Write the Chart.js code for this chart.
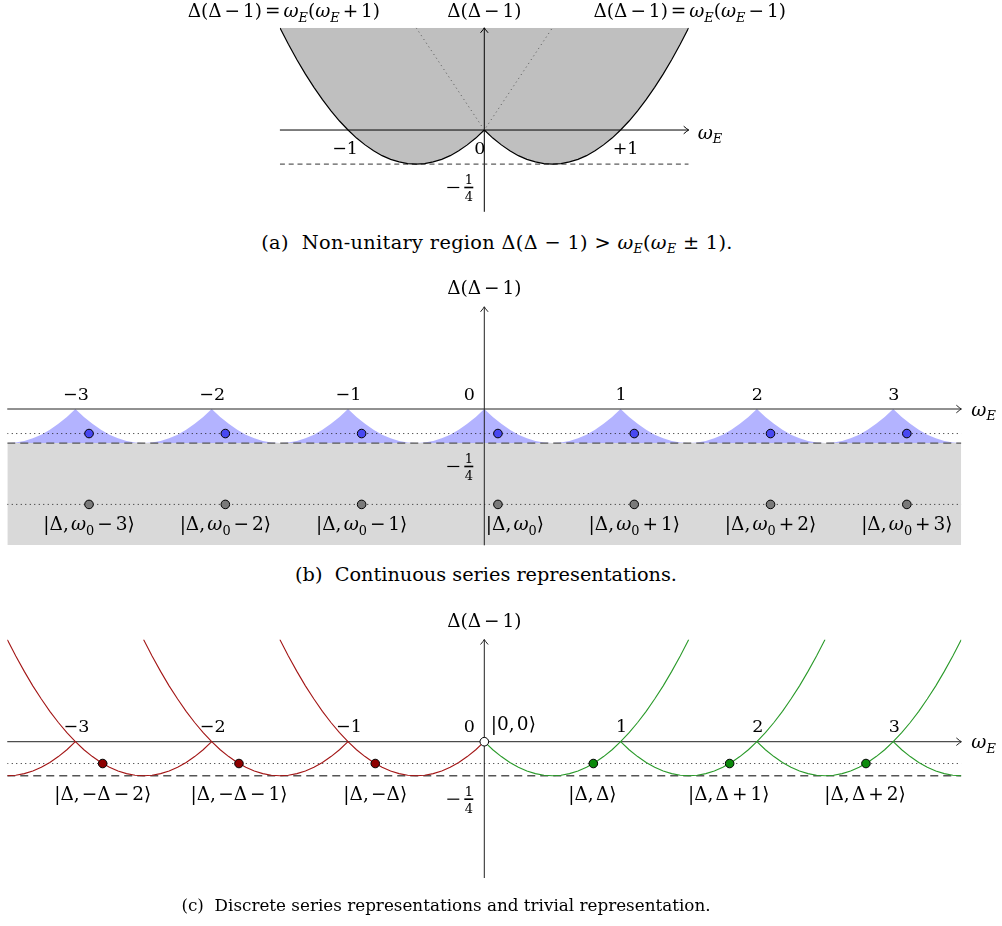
<!DOCTYPE html>
<html><head><meta charset="utf-8">
<script src="https://cdn.jsdelivr.net/npm/chart.js@4.4.1/dist/chart.umd.min.js"></script>
<style>
html,body{margin:0;padding:0;background:#fff;}
body{width:1002px;height:926px;position:relative;overflow:hidden;}
canvas{position:absolute;left:0;}
.cap{position:absolute;transform:translateX(-50%);white-space:nowrap;font-family:"DejaVu Serif","Liberation Serif",serif;font-size:19.3px;line-height:22px;color:#000;}
.cap i{font-style:italic}
.cap sub{font-size:12.5px;line-height:0;vertical-align:-4px}
</style></head><body>
<canvas id="ca" width="1002" height="225" style="top:0px"></canvas>
<canvas id="cb" width="1002" height="300" style="top:260px"></canvas>
<canvas id="cc" width="1002" height="300" style="top:595px"></canvas>
<div class="cap" style="left:497px;top:232px;letter-spacing:0.35px">(a)&nbsp; Non-unitary region Δ(Δ − 1) &gt; <i>ω</i><sub><i>E</i></sub>(<i>ω</i><sub><i>E</i></sub> ± 1).</div>
<div class="cap" style="left:486px;top:564px">(b)&nbsp; Continuous series representations.</div>
<div class="cap" style="left:446px;top:894px;font-size:16.8px">(c)&nbsp; Discrete series representations and trivial representation.</div>
<script>
// ---------- data ----------
// parabola profile: value of Δ(Δ−1) vs offset u along ω
const PROFILE_U = [-0.5,-0.4375,-0.375,-0.3125,-0.25,-0.1875,-0.125,-0.0625,0,0.0625,0.125,0.1875,0.25,0.3125,0.375,0.4375,0.5,0.5625,0.625,0.6875,0.75,0.8125,0.875,0.9375,1,1.0625,1.125,1.1875,1.25,1.3125,1.375,1.4375,1.5];
const PROFILE_V = [0.75,0.629,0.516,0.41,0.313,0.223,0.141,0.066,0,-0.059,-0.109,-0.152,-0.188,-0.215,-0.234,-0.246,-0.25,-0.246,-0.234,-0.215,-0.188,-0.152,-0.109,-0.059,0,0.066,0.141,0.223,0.313,0.41,0.516,0.629,0.75];

const UNITARITY_BOUND = -0.25;
// panel (a)
const A_PIECES = [[-1,-0.5,1],[0,0,1.5]];           // [shift, uFrom, uTo]
const A_DOTTED_X = [-0.5, 0, 0.5];
const A_DOTTED_Y = [0.75, 0, 0.75];
const A_TICKS = [-1, 0, 1];
const A_TICK_LABELS = ['−1','0','+1'];
const A_TOP_LABELS = ['Δ(Δ−1)=ω_E(ω_E+1)','Δ(Δ−1)','Δ(Δ−1)=ω_E(ω_E−1)'];
// panel (b)
const B_PEAKS = [-3,-2,-1,0,1,2,3];
const B_TICK_LABELS = ['−3','−2','−1','0','1','2','3'];
const B_BLUE_OMEGA = [-2.9,-1.9,-0.9,0.1,1.1,2.1,3.1];
const B_BLUE_LEVEL = -0.18;
const B_GRAY_OMEGA = [-2.9,-1.9,-0.9,0.1,1.1,2.1,3.1];
const B_GRAY_LEVEL = -0.70;
const B_LABELS = ['|Δ,ω_0−3⟩','|Δ,ω_0−2⟩','|Δ,ω_0−1⟩','|Δ,ω_0⟩','|Δ,ω_0+1⟩','|Δ,ω_0+2⟩','|Δ,ω_0+3⟩'];
// panel (c)
const C_GREEN_PIECES = [[0,0,1.5],[1,0,1.5],[2,0,1.5],[3,0,0.5]];
const C_RED_PIECES = [[-1,-0.5,1],[-2,-0.5,1],[-3,-0.5,1],[-4,0.5,1]];
const C_GREEN_OMEGA = [0.8,1.8,2.8];
const C_RED_OMEGA = [-0.8,-1.8,-2.8];
const C_LEVEL = -0.16;
const C_GREEN_LABELS = ['|Δ,Δ⟩','|Δ,Δ+1⟩','|Δ,Δ+2⟩'];
const C_RED_LABELS = ['|Δ,−Δ⟩','|Δ,−Δ−1⟩','|Δ,−Δ−2⟩'];
const C_TICKS = [-3,-2,-1,0,1,2,3];
const C_TICK_LABELS = ['−3','−2','−1','0','1','2','3'];

// ---------- helpers ----------
function piece(shift, uFrom, uTo){
  const out=[];
  for(let i=0;i<PROFILE_U.length;i++){
    const u=PROFILE_U[i];
    if(u>=uFrom-1e-9 && u<=uTo+1e-9) out.push({x:u+shift,y:PROFILE_V[i]});
  }
  return out;
}
const FONT='"DejaVu Serif","Liberation Serif",serif';
const LABEL_SIZE=18.5, TICK_SIZE=17.5;
function tokens(str,size){
  const out=[];
  let prev='';
  for(let i=0;i<str.length;i++){
    let ch=str[i], sub=false;
    if(ch==='_'){sub=true;i++;ch=str[i];}
    const it=/[a-zA-Zω]/.test(ch);
    const s=sub?size*0.7:size;
    let pre=0,post=0;
    const unary = (ch==='−'||ch==='+') && (prev===''||prev==='('||prev===','||prev==='|');
    if('−+=>±'.includes(ch) && !unary){pre=post=size*0.16;}
    if(ch===','){post=size*0.12;}
    out.push({ch,font:(it?'italic ':'')+s.toFixed(1)+'px '+FONT,pre,post,dy:sub?size*0.26:0});
    prev=ch;
  }
  return out;
}
function drawRich(ctx,str,x,y,size,align){
  const tk=tokens(str,size);
  let w=0;
  tk.forEach(t=>{ctx.font=t.font;t.w=ctx.measureText(t.ch).width;w+=t.pre+t.w+t.post;});
  let cx = align==='left'?x:(align==='right'?x-w:x-w/2);
  const base=y+size*0.36;
  ctx.textBaseline='alphabetic';ctx.textAlign='left';ctx.fillStyle='#000';
  tk.forEach(t=>{cx+=t.pre;ctx.font=t.font;ctx.fillText(t.ch,cx,base+t.dy);cx+=t.w+t.post;});
}
function drawQuarter(ctx,px,py){
  // "−1/4" fraction; px,py = pixel of (0,-1/4)
  const bx=px-15.5, by=py+23.4;
  ctx.save();
  ctx.strokeStyle='#000';ctx.lineWidth=1.2;
  ctx.beginPath();ctx.moveTo(bx-21.5,by);ctx.lineTo(bx-9.5,by);ctx.stroke();
  ctx.lineWidth=1.6;
  ctx.beginPath();ctx.moveTo(bx-4.5,by);ctx.lineTo(bx+4.5,by);ctx.stroke();
  ctx.fillStyle='#000';ctx.textAlign='center';ctx.textBaseline='alphabetic';
  ctx.font='13px '+FONT;
  ctx.fillText('1',bx,by-3);
  ctx.fillText('4',bx,by+14);
  ctx.restore();
}
function arrowHead(ctx,x,y,dir){
  ctx.beginPath();
  if(dir==='right'){
    ctx.moveTo(x-5,y-3.8);ctx.quadraticCurveTo(x-1.5,y-0.8,x,y);ctx.quadraticCurveTo(x-1.5,y+0.8,x-5,y+3.8);
  }else{
    ctx.moveTo(x-3.8,y+5);ctx.quadraticCurveTo(x-0.8,y+1.5,x,y);ctx.quadraticCurveTo(x+0.8,y+1.5,x+3.8,y+5);
  }
  ctx.stroke();
}
function axesPlugin(cfg){
  return {id:'axesArrows',beforeDatasetsDraw(chart){
    const ctx=chart.ctx,xs=chart.scales.x,ys=chart.scales.y;
    ctx.save();ctx.strokeStyle=cfg.color;ctx.lineWidth=1;
    const y0=ys.getPixelForValue(0),x0=xs.getPixelForValue(0);
    const xa=xs.getPixelForValue(xs.min),xb=xs.getPixelForValue(xs.max);
    const ya=ys.getPixelForValue(ys.min),yb=ys.getPixelForValue(ys.max);
    ctx.beginPath();ctx.moveTo(xa,y0);ctx.lineTo(xb,y0);ctx.stroke();
    ctx.beginPath();ctx.moveTo(x0,ya);ctx.lineTo(x0,yb);ctx.stroke();
    arrowHead(ctx,xb,y0,'right');arrowHead(ctx,x0,yb,'up');
    ctx.restore();
  }};
}
function labelsPlugin(items,quarter){
  return {id:'texts',afterDraw(chart){
    const ctx=chart.ctx,xs=chart.scales.x,ys=chart.scales.y;
    ctx.save();
    items.forEach(it=>{
      drawRich(ctx,it.t,xs.getPixelForValue(it.x)+(it.dx||0),ys.getPixelForValue(it.y)+(it.dy||0),it.size||LABEL_SIZE,it.align||'center');
    });
    if(quarter) drawQuarter(ctx,xs.getPixelForValue(0),ys.getPixelForValue(UNITARITY_BOUND));
    ctx.restore();
  }};
}
function options(xmin,xmax,ymin,ymax,pad){
  return {responsive:false,animation:false,events:[],devicePixelRatio:1,
    layout:{padding:pad},
    plugins:{legend:{display:false},tooltip:{enabled:false},filler:{drawTime:'beforeDatasetsDraw'}},
    scales:{x:{type:'linear',min:xmin,max:xmax,display:false},y:{type:'linear',min:ymin,max:ymax,display:false}},
    elements:{point:{radius:0,hoverRadius:0},line:{tension:0}}};
}
function hline(y,x1,x2,color,dash,w){
  return {data:[{x:x1,y:y},{x:x2,y:y}],borderColor:color,borderDash:dash,borderWidth:w,pointRadius:0,fill:false};
}
function dots(xsArr,y,bg,r){
  return {data:xsArr.map(x=>({x:x,y:y})),showLine:false,pointRadius:r,pointBackgroundColor:bg,pointBorderColor:'#000',pointBorderWidth:1};
}

// ---------- panel (a) ----------
(function(){
  const ds=[];
  A_PIECES.forEach(p=>ds.push({data:piece(p[0],p[1],p[2]),borderColor:'#000',borderWidth:1.2,backgroundColor:'#bfbfbf',fill:'end',pointRadius:0}));
  ds.push({data:A_DOTTED_X.map((x,i)=>({x:x,y:A_DOTTED_Y[i]})),borderColor:'#555',borderDash:[1,3.5],borderWidth:1,fill:false,pointRadius:0});
  ds.push(hline(UNITARITY_BOUND,-1.5,1.5,'#333',[5,3.8],1));
  const items=[
    {t:A_TOP_LABELS[0],x:-1.5,y:0.75,dx:4,dy:-17},
    {t:A_TOP_LABELS[1],x:0,y:0.75,dx:0,dy:-17},
    {t:A_TOP_LABELS[2],x:1.5,y:0.75,dx:1,dy:-17},
    {t:'ω_E',x:1.5,y:0,dx:9,dy:2,align:'left'},
    {t:A_TICK_LABELS[0],x:A_TICKS[0],y:0,dx:-3,dy:18,size:TICK_SIZE},
    {t:A_TICK_LABELS[1],x:A_TICKS[1],y:0,dx:-4.5,dy:18,size:TICK_SIZE},
    {t:A_TICK_LABELS[2],x:A_TICKS[2],y:0,dx:5,dy:18,size:TICK_SIZE}
  ];
  new Chart(document.getElementById('ca'),{type:'line',data:{datasets:ds},
    options:options(-1.5,1.5,-0.6,0.75,{left:279.9,right:313.3,top:27.8,bottom:13.2}),
    plugins:[axesPlugin({color:'#000'}),labelsPlugin(items,true)]});
})();

// ---------- panel (b) ----------
(function(){
  let blue=[];
  B_PEAKS.forEach(n=>{blue=blue.concat(piece(n-1,0.5,1),piece(n,0.0625,0.5));});
  const ds=[];
  ds.push(dots(B_BLUE_OMEGA,B_BLUE_LEVEL,'#4848f2',4.3));
  ds.push(dots(B_GRAY_OMEGA,B_GRAY_LEVEL,'#7a7a7a',4.3));
  ds.push(hline(B_BLUE_LEVEL,-3.5,3.5,'#222',[1,3.5],1));
  ds.push(hline(B_GRAY_LEVEL,-3.5,3.5,'#222',[1,3.5],1));
  ds.push(hline(UNITARITY_BOUND,-3.5,3.5,'#555',[8,5],1.4));
  ds.push({data:blue,borderWidth:0,borderColor:'rgba(0,0,0,0)',backgroundColor:'#b3b3ff',fill:{value:UNITARITY_BOUND},pointRadius:0});
  ds.push({data:[{x:-3.5,y:UNITARITY_BOUND},{x:3.5,y:UNITARITY_BOUND}],borderWidth:0,borderColor:'rgba(0,0,0,0)',backgroundColor:'#d9d9d9',fill:'start',pointRadius:0});
  const items=[{t:'Δ(Δ−1)',x:0,y:0.75,dy:-19},{t:'ω_E',x:3.5,y:0,dx:10,dy:0,align:'left'}];
  B_PEAKS.forEach((n,i)=>items.push({t:B_TICK_LABELS[i],x:n,y:0,dx:n===0?-15:0.5,dy:-15,size:TICK_SIZE}));
  B_GRAY_OMEGA.forEach((w,i)=>items.push({t:B_LABELS[i],x:w,y:B_GRAY_LEVEL,dx:i===3?17:0,dy:19}));
  new Chart(document.getElementById('cb'),{type:'line',data:{datasets:ds},
    options:options(-3.5,3.5,-1,0.75,{left:7.25,right:40.65,top:46.8,bottom:14.7}),
    plugins:[axesPlugin({color:'#222'}),labelsPlugin(items,true)]});
})();

// ---------- panel (c) ----------
(function(){
  const ds=[];
  ds.push({data:[{x:0,y:0}],showLine:false,pointRadius:4.3,pointBackgroundColor:'#fff',pointBorderColor:'#000',pointBorderWidth:1});
  ds.push(dots(C_GREEN_OMEGA,C_LEVEL,'#0b8a0b',4.3));
  ds.push(dots(C_RED_OMEGA,C_LEVEL,'#8e0000',4.3));
  C_GREEN_PIECES.forEach(p=>ds.push({data:piece(p[0],p[1],p[2]),borderColor:'#2a9a2a',borderWidth:1.1,fill:false,pointRadius:0}));
  C_RED_PIECES.forEach(p=>ds.push({data:piece(p[0],p[1],p[2]),borderColor:'#a31616',borderWidth:1.1,fill:false,pointRadius:0}));
  ds.push(hline(C_LEVEL,-3.5,3.5,'#222',[1,3.5],1));
  ds.push(hline(UNITARITY_BOUND,-3.5,3.5,'#555',[8,5],1.4));
  const items=[{t:'Δ(Δ−1)',x:0,y:0.75,dy:-19},{t:'ω_E',x:3.5,y:0,dx:10,dy:0,align:'left'},{t:'|0,0⟩',x:0,y:0,dx:29,dy:-18}];
  C_TICKS.forEach((n,i)=>items.push({t:C_TICK_LABELS[i],x:n,y:0,dx:n===0?-15:1,dy:-16,size:TICK_SIZE}));
  C_GREEN_OMEGA.forEach((w,i)=>items.push({t:C_GREEN_LABELS[i],x:w,y:C_LEVEL,dx:-1,dy:30}));
  C_RED_OMEGA.forEach((w,i)=>items.push({t:C_RED_LABELS[i],x:w,y:C_LEVEL,dx:0,dy:30}));
  new Chart(document.getElementById('cc'),{type:'line',data:{datasets:ds},
    options:options(-3.5,3.5,-1,0.75,{left:7.25,right:40.65,top:44.5,bottom:17}),
    plugins:[axesPlugin({color:'#222'}),labelsPlugin(items,true)]});
})();
</script>
</body></html>
